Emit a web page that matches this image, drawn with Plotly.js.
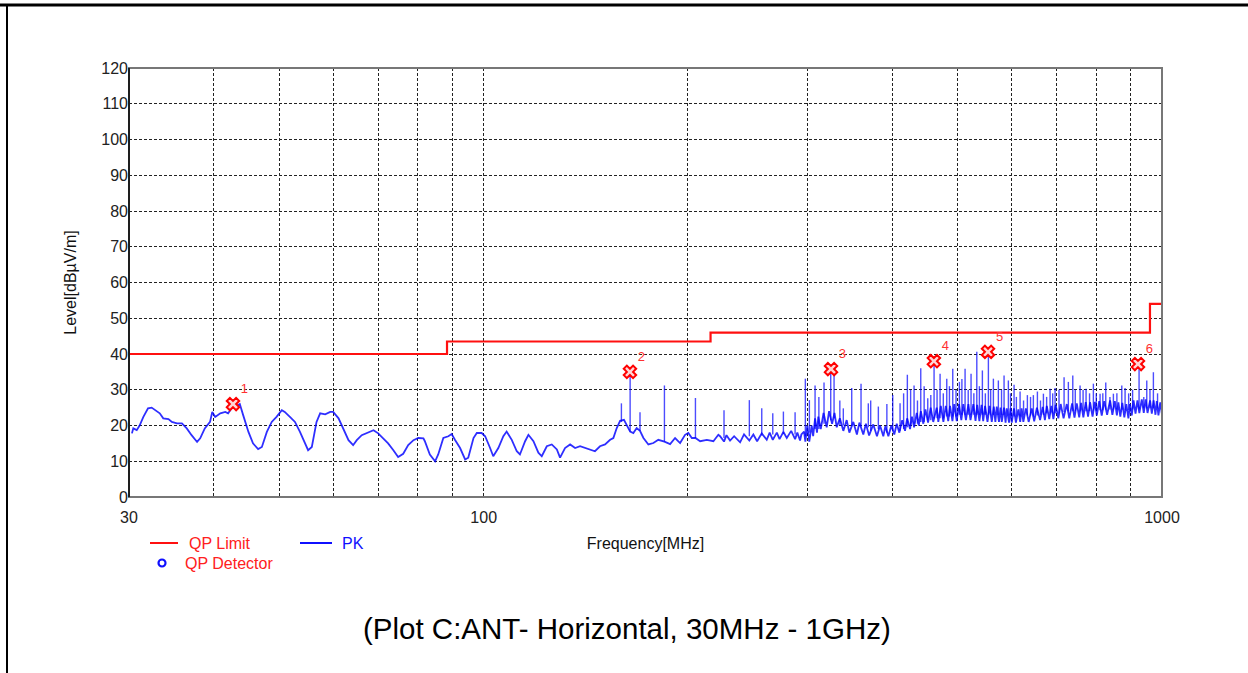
<!DOCTYPE html>
<html>
<head>
<meta charset="utf-8">
<script src="https://cdn.plot.ly/plotly-3.0.1.min.js"></script>
<style>
  html, body { margin: 0; padding: 0; background: #fff; }
  #chart { width: 1248px; height: 673px; }
</style>
</head>
<body>
<div id="chart"></div>
<script>
// ---- Data ----
// QP limit steps (MHz, dBuV/m), drawn as a step line
const limitFreq = [30, 88.3, 216, 960, 1000];
const limitLevel = [40, 43.5, 46, 54, 54];

// PK trace baseline (MHz, dBuV/m)
const pkFreq = [
  30.3, 30.44, 30.8, 31.1, 31.5, 32.0, 32.4, 33.0, 33.3, 33.7, 34.3, 34.7, 35.3, 35.9, 36.5, 37.1, 37.8, 38.2, 38.8, 39.5,
  39.8, 40.2, 40.9, 41.6, 42.0, 42.5, 43.2, 43.7, 44.2, 45.0, 45.7, 46.5, 47.1, 47.9, 48.7, 49.5, 50.4, 50.9, 51.8, 52.7,
  53.6, 54.5, 55.1, 55.8, 56.7, 57.4, 58.4, 59.4, 60.0, 61.1, 62.1, 63.2, 64.2, 65.0, 66.1, 67.6, 68.8, 69.9, 71.1, 72.3,
  73.6, 74.8, 76.1, 77.4, 78.8, 80.1, 81.5, 81.9, 83.3, 84.8, 85.7, 87.2, 88.7, 89.7, 90.7, 92.3, 93.9, 94.9, 96.6, 97.7,
  99.3, 100.5, 102.2, 103.3, 105.1, 106.9, 108.1, 110.0, 111.9, 113.1, 115.1, 116.4, 118.4, 120.4, 121.8, 123.9, 126.0, 128.2, 129.6, 131.8,
  134.1, 136.4, 138.7, 141.1, 143.5, 145.9, 148.4, 151.0, 153.6, 155.3, 157.1, 158.9, 161.0, 162.5, 164.4, 166.2, 168.1, 170.0, 172.0, 174.9,
  177.9, 180.9, 184.7, 188.3, 191.5, 194.8, 198.1, 200.3, 202.7, 205.2, 208.5, 213.3, 218.1, 221.8,
  223.1, 226.1, 228, 230.8, 234, 238.8, 242, 246.4, 249.8, 253, 257.0, 261.4, 264, 266.8, 270.5, 273, 276.6, 279.8, 284, 287.8,
  290, 292.7, 294,
  296.7, 298, 300.0, 302, 304.5, 306, 308, 310, 311.4, 314,
  317, 320.4, 323, 326.3, 329, 331.5, 335, 339, 342.9, 346,
  350.7, 355, 358, 362.8, 366, 370, 375.3, 380, 384, 388.3,
  391, 395.0, 399, 403, 406.4, 410, 414, 418.0, 421, 425.2,
  428, 431, 435.0, 438, 441, 444.8, 448, 452, 456, 460,
  465.5, 468, 472, 476.1, 480, 484, 487.0, 491, 494, 498.2,
  502, 506, 509.5, 514, 518.3, 522, 527.1, 531, 534, 538.0,
  542, 545, 548.5, 553, 557, 561.1, 565, 568, 570.7, 575,
  578, 580.5, 585, 588, 590.4, 595, 598, 600.5, 605, 609,
  614.1, 618, 621, 624.6, 630, 636, 642.7, 648, 654, 661.1,
  667, 672, 676.3, 682, 687, 691.6, 697, 703.4, 709, 716,
  723.8, 730, 737, 743, 748.8, 755, 760, 765.7, 772, 778,
  783.3, 790, 796, 801.4, 808, 815, 822, 830, 838.4, 845,
  852, 858, 862.4, 868, 874, 880, 886, 892.2, 897, 902.5,
  908, 914, 920, 926, 933.7, 940, 946, 952, 960.4, 966,
  972, 978, 982.4, 988, 994, 999.3
];
const pkLevel = [
  17.8, 19.2, 18.7, 20, 22.4, 24.8, 25, 23.8, 23.4, 22, 21.8, 21, 20.6, 20.6, 19.2, 17.3, 15.4, 16.4, 19.2, 21,
  23.8, 22.4, 23.4, 23.8, 23.4, 24.8, 25.5, 26, 22.9, 18.2, 15, 13.4, 14, 18.2, 21, 22.4, 24.3, 23.8, 22.4, 21,
  18.2, 15, 13.1, 14, 21, 23.4, 23.1, 23.8, 23.8, 22, 19.2, 15.9, 14.5, 15.9, 17.3, 18, 18.7, 17.8, 16.4, 15,
  13.1, 11.2, 12.1, 14.5, 15.9, 16.5, 16.4, 15.6, 11.9, 10, 11.9, 16.5, 17, 17.6, 16, 13.7, 10.5, 11, 16.5, 17.9,
  17.9, 17, 13.7, 11.4, 13.7, 17, 18.3, 16, 12.8, 11.9, 15.6, 17.4, 15.6, 12.4, 11.4, 14.2, 14.7, 13.3, 11, 13.7,
  14.7, 13.7, 14.2, 13.7, 13.3, 12.8, 14.2, 14.7, 16, 16.5, 19.3, 21.3, 21.6, 20.2, 18.3, 17.9, 19.3, 18.5, 16.5, 14.7,
  15.1, 16, 15.5, 14.8, 16.5, 15.1, 17.4, 17.9, 16.5, 16.5, 15.6, 16, 15.6, 17.4,
  17, 15.5, 17.3, 15.8, 17, 15.3, 17.5, 15.8, 17.5, 15.6, 17.8, 16, 18, 16, 18, 16.2, 18.2, 16.5, 18.5, 16.2,
  18, 15.8, 17.5,
  18.3, 15.5, 20, 15.5, 20, 17, 22, 18, 22.5, 19,
  23.5, 19.5, 24, 20.5, 23.5, 19.5, 22, 18.5, 21.5, 18,
  21, 17.5, 20.8, 17.5, 20.5, 17.2, 20.3, 17, 20, 17,
  19.8, 17, 20, 17.5, 20.5, 18, 21.5, 18.5, 22, 19,
  22.5, 19.5, 23.5, 20, 24, 20.5, 24.5, 20.8, 25, 21,
  25, 21, 25.5, 21, 25.5, 21.2, 25.5, 21.2, 26, 21.2,
  26, 21.5, 26, 21.5, 26, 21.5, 26, 21.3, 25.8, 21.2,
  25.8, 21.2, 25.5, 21, 25.5, 21, 25.3, 21, 25.3, 21,
  25, 21, 25, 20.8, 24.8, 20.8, 24.8, 20.8, 24.8, 20.8,
  24.5, 21, 24.8, 21, 24.8, 21, 24.8, 21.2, 25, 21.5,
  25.2, 21.5, 25.5, 21.8, 25.5, 21.8, 25.8, 22, 26, 22,
  26, 22, 26.2, 22.2, 26.2, 22.3, 26.3, 22.3, 26.5, 22.5,
  26.5, 22.5, 26.6, 22.8, 26.8, 22.8, 26.8, 23, 27, 23,
  26.8, 22.8, 26.5, 22.5, 26.3, 22.3, 26, 22, 26, 22.8,
  27, 23.3, 27, 23.5, 27.3, 23.5, 27.3, 23.5, 27, 23.3,
  27, 23, 26.8, 22.8, 26.5, 23.4
];

// Narrow emission spikes on the PK trace (frequency, peak level, level at foot)
const spikeFreq = [
  159.6, 164.4, 170.0, 184.7, 205.2, 226.1, 246.4, 257.0, 266.8, 276.6, 287.8, 298.0, 302.1, 308.0, 317.5, 324.8, 328.5, 339.0, 348.8, 360.0,
  369.0, 381.8, 400.9, 411.0, 421.3, 431.0, 440.9, 451.5, 456.2, 461.3, 470.8, 481.6, 491.5, 502.7, 512.5, 523.0, 533.3, 543.5, 554.7, 564.2,
  573.8, 585.0, 593.6, 605.2, 617.7, 633.2, 646.2, 655.1, 668.6, 683.9, 695.6, 717.2, 727.7, 738.7, 757.2, 772.8, 792.2, 810.4, 826.2, 847.9,
  872.4, 882.2, 925.1, 949.6, 971.2,
  312, 335, 372, 393, 416, 426, 436, 446, 466, 476, 486, 497, 507, 518, 528, 538, 549, 559, 580, 598,
  610, 625, 640, 662, 676, 690, 705, 745, 765, 782, 800, 818, 838, 858, 893, 905, 940, 960, 985
];
const spikePeak = [
  26.2, 35.0, 23.7, 31.2, 27.7, 24.3, 27.1, 24.8, 23.4, 23.9, 23.7, 33.1, 27.1, 31.2, 32.0, 34.9, 35.4, 24.8, 30.5, 31.7,
  26.2, 25.3, 28.5, 26.2, 34.2, 31.2, 36.0, 27.6, 28.5, 37.7, 34.5, 33.1, 35.9, 32.2, 35.9, 34.5, 40.6, 35.4, 40.3, 33.1,
  32.6, 34.0, 32.6, 31.4, 29.5, 28.5, 28.5, 29.5, 28.9, 30.3, 30.5, 33.5, 32.2, 34.0, 31.2, 30.3, 31.7, 28.9, 32.0, 28.9,
  31.2, 30.5, 37.0, 32.6, 34.9,
  28, 27, 27, 26, 29, 30, 27, 31, 30, 29, 31, 30, 33, 30, 29, 31, 29, 30, 30, 29,
  28, 27, 28, 27, 28, 29, 30, 30, 30, 29, 29, 29, 28, 29, 29, 30, 28, 30, 29
];
const spikeBase = [
  21, 18.3, 18.5, 15.5, 16.5, 16.5, 17, 17.2, 17.5, 17.6, 17.5, 17, 18, 19, 20.5, 21.5, 22, 20, 20, 19.7,
  19.5, 19, 18.5, 18.5, 19.5, 20.5, 21, 21.5, 21.5, 22, 22, 22.5, 22.5, 23, 23, 23, 23, 23, 23, 23,
  23, 23, 22.8, 22.5, 22.5, 22.8, 22.5, 22.8, 23, 23.4, 23.4, 23.8, 24, 24, 24, 24, 24.2, 24.3, 24.5, 24.5,
  24.5, 24.3, 24.5, 24.8, 24.8,
  19, 20, 18.5, 18, 19, 20, 20.5, 21, 22, 22, 22.5, 22.5, 23, 23, 23, 23, 23, 23, 23, 22.8,
  22.5, 22.8, 22.8, 23, 23.4, 23.4, 23.5, 24, 24, 24, 24.2, 24.3, 24.5, 24.5, 24.3, 24.5, 24.8, 24.8, 24.8
];

// Final measurement markers
const markFreq = [42.7, 164.3, 325.1, 461, 554, 921.7];
const markLevel = [26.0, 35.0, 35.8, 38.0, 40.6, 37.2];
const markLabel = ['1', '2', '3', '4', '5', '6'];

// Axis ticks
const xTickVals = [30, 40, 50, 60, 70, 80, 90, 100, 200, 300, 400, 500, 600, 700, 800, 900, 1000];
const xTickText = ['30', '', '', '', '', '', '', '100', '', '', '', '', '', '', '', '', '1000'];
const yTickVals = [0, 10, 20, 30, 40, 50, 60, 70, 80, 90, 100, 110, 120];

// ---- Build spike segments from the spike arrays ----
const spX = [], spY = [];
for (let i = 0; i < spikeFreq.length; i++) {
  spX.push(spikeFreq[i], spikeFreq[i], null);
  spY.push(spikeBase[i], spikePeak[i], null);
}

const FONT = 'Liberation Sans, Arial, sans-serif';

const traces = [
  {
    x: limitFreq, y: limitLevel, type: 'scatter', mode: 'lines',
    line: { color: '#ff1010', width: 2.2, shape: 'hv' }, name: 'QP Limit', hoverinfo: 'skip'
  },
  {
    x: pkFreq, y: pkLevel, type: 'scatter', mode: 'lines',
    line: { color: 'rgba(0,0,255,0.82)', width: 1.8 }, name: 'PK'
  },
  {
    x: spX, y: spY, type: 'scatter', mode: 'lines', connectgaps: false,
    line: { color: 'rgba(0,0,255,0.7)', width: 1.4 }, name: 'PK spikes'
  },
  {
    x: markFreq, y: markLevel, type: 'scatter', mode: 'markers+text',
    text: markLabel, textposition: 'top right',
    textfont: { family: FONT, size: 13, color: '#ff3030' },
    marker: { symbol: 'x', size: 11, color: '#ffd6d6', line: { color: '#ff0000', width: 2 } },
    name: 'Markers'
  }
];

const GRID = '#222';
const layout = {
  width: 1248, height: 673,
  margin: { l: 129, r: 86, t: 68, b: 176 },
  paper_bgcolor: '#ffffff', plot_bgcolor: '#ffffff',
  showlegend: false,
  font: { family: FONT, size: 16, color: '#111' },
  xaxis: {
    type: 'log', range: [Math.log10(30), Math.log10(1000)],
    tickvals: xTickVals, ticktext: xTickText, ticks: '', ticklabelstandoff: 9,
    tickfont: { family: FONT, size: 16, color: '#222' },
    showgrid: true, gridcolor: GRID, griddash: '3px,2px', gridwidth: 1,
    showline: false, zeroline: false,
    title: { text: 'Frequency[MHz]', font: { family: FONT, size: 16, color: '#111' }, standoff: 12 },
    automargin: false
  },
  yaxis: {
    range: [0, 120], tickvals: yTickVals, ticks: '',
    tickfont: { family: FONT, size: 16, color: '#222' },
    showgrid: true, gridcolor: GRID, griddash: '3px,2px', gridwidth: 1,
    showline: false, zeroline: false,
    title: { text: 'Level[dBµV/m]', font: { family: FONT, size: 16, color: '#111' }, standoff: 20 },
    automargin: false
  },
  shapes: [
    // plot frame
    { type: 'rect', xref: 'paper', yref: 'paper', x0: 0, x1: 1, y0: 0, y1: 1, line: { color: '#777', width: 2 } },
    { type: 'line', xref: 'paper', yref: 'paper', x0: 0, x1: 0, y0: 0, y1: 1, line: { color: '#000', width: 1.5 } },
    // outer page border (top and left)
    { type: 'line', xref: 'paper', yref: 'paper', x0: -129 / 1033, x1: 1 + 86 / 1033, y0: 1 + 63 / 429, y1: 1 + 63 / 429, line: { color: '#000', width: 3 } },
    { type: 'line', xref: 'paper', yref: 'paper', x0: -122 / 1033, x1: -122 / 1033, y0: 1 + 63 / 429, y1: -176 / 429, line: { color: '#000', width: 2 } },
    // legend samples
    { type: 'line', xref: 'paper', yref: 'paper', x0: 21 / 1033, x1: 49 / 1033, y0: -46 / 429, y1: -46 / 429, line: { color: '#ff1010', width: 2 } },
    { type: 'line', xref: 'paper', yref: 'paper', x0: 171 / 1033, x1: 203 / 1033, y0: -46 / 429, y1: -46 / 429, line: { color: '#1010ff', width: 2 } },
    { type: 'circle', xref: 'paper', yref: 'paper', x0: 29.5 / 1033, x1: 36.5 / 1033, y0: -62.5 / 429, y1: -69.5 / 429, line: { color: '#1010ff', width: 2.2 } }
  ],
  annotations: [
    { xref: 'paper', yref: 'paper', x: 58 / 1033, y: -46 / 429, xanchor: 'left', yanchor: 'middle', showarrow: false,
      text: 'QP Limit', font: { family: FONT, size: 16, color: '#ff2020' } },
    { xref: 'paper', yref: 'paper', x: 211 / 1033, y: -46 / 429, xanchor: 'left', yanchor: 'middle', showarrow: false,
      text: 'PK', font: { family: FONT, size: 16, color: '#1010ff' } },
    { xref: 'paper', yref: 'paper', x: 54 / 1033, y: -66 / 429, xanchor: 'left', yanchor: 'middle', showarrow: false,
      text: 'QP Detector', font: { family: FONT, size: 16, color: '#ff2020' } },
    { xref: 'paper', yref: 'paper', x: 498 / 1033, y: -131 / 429, xanchor: 'center', yanchor: 'middle', showarrow: false,
      text: '(Plot C:ANT- Horizontal, 30MHz - 1GHz)', font: { family: FONT, size: 29.5, color: '#000' } }
  ]
};

Plotly.newPlot('chart', traces, layout, { staticPlot: true, displayModeBar: false });
</script>
</body>
</html>
